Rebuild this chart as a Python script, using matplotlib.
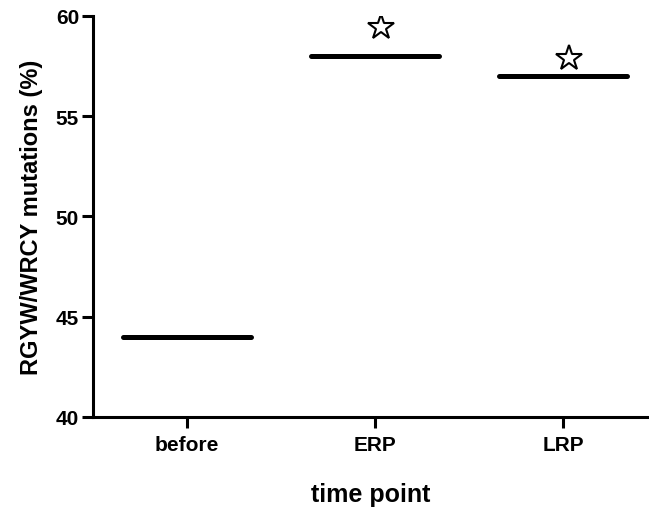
import matplotlib
matplotlib.use("Agg")
import matplotlib.pyplot as plt

groups = ["before", "ERP", "LRP"]
values = [44, 58, 57]
star_groups = [1, 2]
star_y = [59.45, 57.9]

plt.rcParams['font.family'] = ['Liberation Sans', 'DejaVu Sans']
plt.rcParams['font.weight'] = 'bold'

fig = plt.figure(figsize=(6.49, 5.10), dpi=100)
ax = fig.add_axes([0.1433, 0.1804, 0.8567, 0.7863])

xs = range(len(groups))
for x, v in zip(xs, values):
    ax.plot([x - 0.34, x + 0.34], [v, v], color='black', lw=3.6, solid_capstyle='round')

for g, y in zip(star_groups, star_y):
    ax.plot(g + 0.03, y, marker='*', markersize=19, markerfacecolor='white',
            markeredgecolor='black', markeredgewidth=1.5, linestyle='none')

ax.set_xlim(-0.5, 2.457)
ax.set_ylim(40, 60)
ax.set_yticks([40, 45, 50, 55, 60])
ax.set_xticks(list(xs))
ax.set_xticklabels(groups)
ax.spines['top'].set_visible(False)
ax.spines['right'].set_visible(False)
ax.spines['left'].set_linewidth(2.2)
ax.spines['bottom'].set_linewidth(2.2)
ax.tick_params(axis='y', length=8, width=2.2, labelsize=15, pad=2)
ax.tick_params(axis='x', length=8, width=2.2, labelsize=15, pad=5)
for lab in ax.get_xticklabels() + ax.get_yticklabels():
    lab.set_fontweight('bold')

ax.set_ylabel("RGYW/WRCY mutations (%)", fontsize=17, fontweight='bold', labelpad=9)
ax.set_xlabel("time point", fontsize=18, fontweight='bold', labelpad=20)

fig.savefig("out.png", dpi=100)
